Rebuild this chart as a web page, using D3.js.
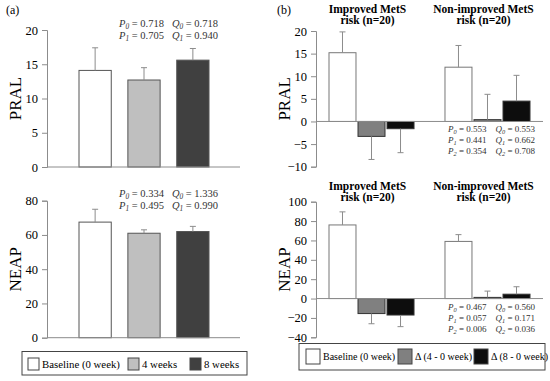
<!DOCTYPE html>
<html>
<head>
<meta charset="utf-8">
<script src="https://cdn.jsdelivr.net/npm/d3@7"></script>
<style>
  body { margin: 0; background: #fff; }
  text { font-family: "Liberation Serif", "Times New Roman", serif; }
</style>
</head>
<body>
<div id="chart"></div>
<script>
// ---- data ----
var weeksA = ["Baseline (0 week)", "4 weeks", "8 weeks"];
var pralA = [14.1, 12.7, 15.6];
var pralAErr = [3.3, 1.8, 1.7];
var neapA = [67.5, 61, 62];
var neapAErr = [7.5, 2, 3];
var pralANotes = [["0.718", "0.718"], ["0.705", "0.940"]];
var neapANotes = [["0.334", "1.336"], ["0.495", "0.990"]];

var groupsB = ["Improved MetS risk (n=20)", "Non-improved MetS risk (n=20)"];
var seriesB = ["Baseline (0 week)", "\u0394 (4 - 0 week)", "\u0394 (8 - 0 week)"];
var pralB = [[15.2, -3.3, -1.6], [12.0, 0.4, 4.5]];
var pralBErr = [[4.6, 5.1, 5.3], [4.8, 5.6, 5.7]];
var neapB = [[76, -15.5, -17], [59, 1.2, 4.5]];
var neapBErr = [[13.5, 10.5, 12], [7, 6.5, 7.7]];
var pralBNotes = [["0.553", "0.553"], ["0.441", "0.662"], ["0.354", "0.708"]];
var neapBNotes = [["0.467", "0.560"], ["0.057", "0.171"], ["0.006", "0.036"]];

var width = 550, height = 381;
var svg = d3.select("#chart").append("svg")
  .attr("width", width).attr("height", height);

var axisColor = "#8c8c8c";
var errColor = "#8c8c8c";
var colorsA = ["#ffffff", "#bfbfbf", "#404040"];
var colorsB = ["#ffffff", "#808080", "#0d0d0d"];

function yAxis(g, y, x0, ticks, fs) {
  var ax = g.append("g").attr("transform", "translate(" + x0 + ",0)")
    .call(d3.axisLeft(y).tickValues(ticks).tickSize(5).tickPadding(4));
  ax.attr("font-family", null);
  ax.select(".domain").attr("stroke", axisColor);
  ax.selectAll(".tick line").attr("stroke", axisColor);
  ax.selectAll(".tick text").attr("fill", "#000").style("font-size", fs + "px")
    .style("font-family", "'Liberation Serif', serif")
    .text(function(d){ return d < 0 ? "\u2212" + Math.abs(d) : d; });
}

function yLabel(g, txt, x, y) {
  g.append("text").attr("transform", "translate(" + x + "," + y + ") rotate(-90)")
    .attr("text-anchor", "middle").style("font-size", "17px").text(txt);
}

function errBars(g, x, w, y, v, e) {
  var sign = v < 0 ? -1 : 1;
  var xc = x + w / 2;
  g.append("line").attr("x1", xc).attr("x2", xc)
    .attr("y1", y(v)).attr("y2", y(v + sign * e))
    .attr("stroke", errColor).attr("stroke-width", 1);
  g.append("line").attr("x1", xc - 3).attr("x2", xc + 3)
    .attr("y1", y(v + sign * e)).attr("y2", y(v + sign * e))
    .attr("stroke", errColor).attr("stroke-width", 1);
}

function notes(g, rows, x, y0, dy, fs, gap) {
  rows.forEach(function(r, i) {
    var t = g.append("text").attr("x", x).attr("y", y0 + i * dy)
      .style("font-size", fs + "px").attr("fill", "#333");
    t.append("tspan").style("font-style", "italic").text("P");
    t.append("tspan").style("font-style", "italic").style("font-size", (fs * 0.7) + "px")
      .attr("dy", 2).text(i);
    t.append("tspan").attr("dy", -2).text(" = " + r[0]);
    t.append("tspan").attr("dx", gap).style("font-style", "italic").text("Q");
    t.append("tspan").style("font-style", "italic").style("font-size", (fs * 0.7) + "px")
      .attr("dy", 2).text(i);
    t.append("tspan").attr("dy", -2).text(" = " + r[1]);
  });
}

// ---- panel (a) ----
function panelA(top, bottom, vals, errs, dom, ticks, label, noteRows, noteY) {
  var g = svg.append("g");
  var y = d3.scaleLinear().domain(dom).range([bottom, top]);
  var x = d3.scaleBand().domain(weeksA).range([79, 209]).paddingInner(0.34);
  g.selectAll("rect").data(vals).enter().append("rect")
    .attr("x", function(d, i){ return x(weeksA[i]); })
    .attr("width", x.bandwidth())
    .attr("y", function(d){ return y(d); })
    .attr("height", function(d){ return y(0) - y(d); })
    .attr("fill", function(d, i){ return colorsA[i]; })
    .attr("stroke", "#555").attr("stroke-width", 1);
  vals.forEach(function(v, i){ errBars(g, x(weeksA[i]), x.bandwidth(), y, v, errs[i]); });
  yAxis(g, y, 47, ticks, 12.5);
  g.append("line").attr("x1", 47).attr("x2", 240).attr("y1", y(0)).attr("y2", y(0))
    .attr("stroke", axisColor);
  yLabel(g, label, 21, (top + bottom) / 2);
  notes(g, noteRows, 119, noteY, 11.5, 10.5, 8);
}
panelA(30, 167, pralA, pralAErr, [0, 20], [0, 5, 10, 15, 20], "PRAL", pralANotes, 27);
panelA(200.7, 337.7, neapA, neapAErr, [0, 80], [0, 20, 40, 60, 80], "NEAP", neapANotes, 197);

svg.append("text").attr("x", 6).attr("y", 14).style("font-size", "12px").text("(a)");
svg.append("text").attr("x", 277).attr("y", 14).style("font-size", "12px").text("(b)");

// legend (a)
var legA = svg.append("g");
legA.append("rect").attr("x", 22).attr("y", 351.5).attr("width", 225).attr("height", 23.5)
  .attr("fill", "#fff").attr("stroke", "#444");
var legAX = [28, 128, 190];
weeksA.forEach(function(s, i) {
  legA.append("rect").attr("x", legAX[i]).attr("y", 358).attr("width", 11).attr("height", 12)
    .attr("fill", colorsA[i]).attr("stroke", "#444");
  legA.append("text").attr("x", legAX[i] + 14).attr("y", 368).style("font-size", "10.8px").text(s);
});

// ---- panel (b) ----
function panelB(top, bottom, vals, errs, dom, ticks, label, noteRows, noteY, titleY) {
  var g = svg.append("g");
  var y = d3.scaleLinear().domain(dom).range([bottom, top]);
  var xg = d3.scaleBand().domain(groupsB).range([329, 530]).paddingInner(0.267);
  var xs = d3.scaleBand().domain(seriesB).range([0, xg.bandwidth()]).paddingInner(0.07);
  groupsB.forEach(function(grp, gi) {
    vals[gi].forEach(function(v, si) {
      var bx = xg(grp) + xs(seriesB[si]);
      g.append("rect").attr("x", bx).attr("width", xs.bandwidth())
        .attr("y", y(Math.max(0, v))).attr("height", Math.abs(y(v) - y(0)))
        .attr("fill", colorsB[si]).attr("stroke", si == 0 ? "#777" : "#333").attr("stroke-width", 1);
      errBars(g, bx, xs.bandwidth(), y, v, errs[gi][si]);
    });
    var words = grp.split(" risk");
    var cx = xg(grp) + xg.bandwidth() / 2 - 4;
    g.append("text").attr("x", cx).attr("y", titleY).attr("text-anchor", "middle")
      .style("font-size", "11.5px").style("font-weight", "bold").text(words[0]);
    g.append("text").attr("x", cx).attr("y", titleY + 11).attr("text-anchor", "middle")
      .style("font-size", "11.5px").style("font-weight", "bold").text("risk" + words[1]);
  });
  yAxis(g, y, 316, ticks, 12.5);
  g.append("line").attr("x1", 316).attr("x2", 543).attr("y1", y(0)).attr("y2", y(0))
    .attr("stroke", axisColor);
  yLabel(g, label, 290, (top + bottom) / 2);
  notes(g, noteRows, 448, noteY, 11, 9, 9);
}
panelB(31, 166.7, pralB, pralBErr, [-10, 20], [-10, -5, 0, 5, 10, 15, 20], "PRAL", pralBNotes, 132, 13);
panelB(201.7, 337.3, neapB, neapBErr, [-40, 100], [-40, -20, 0, 20, 40, 60, 80, 100], "NEAP", neapBNotes, 310, 190);

// legend (b)
var legB = svg.append("g");
legB.append("rect").attr("x", 299).attr("y", 343.5).attr("width", 246).attr("height", 26.5)
  .attr("fill", "#fff").attr("stroke", "#444");
var legBX = [306, 398, 474];
seriesB.forEach(function(s, i) {
  legB.append("rect").attr("x", legBX[i]).attr("y", 349).attr("width", 14).attr("height", 15)
    .attr("fill", colorsB[i]).attr("stroke", "#444");
  legB.append("text").attr("x", legBX[i] + 17).attr("y", 360).style("font-size", "10px").text(s);
});
</script>
</body>
</html>
